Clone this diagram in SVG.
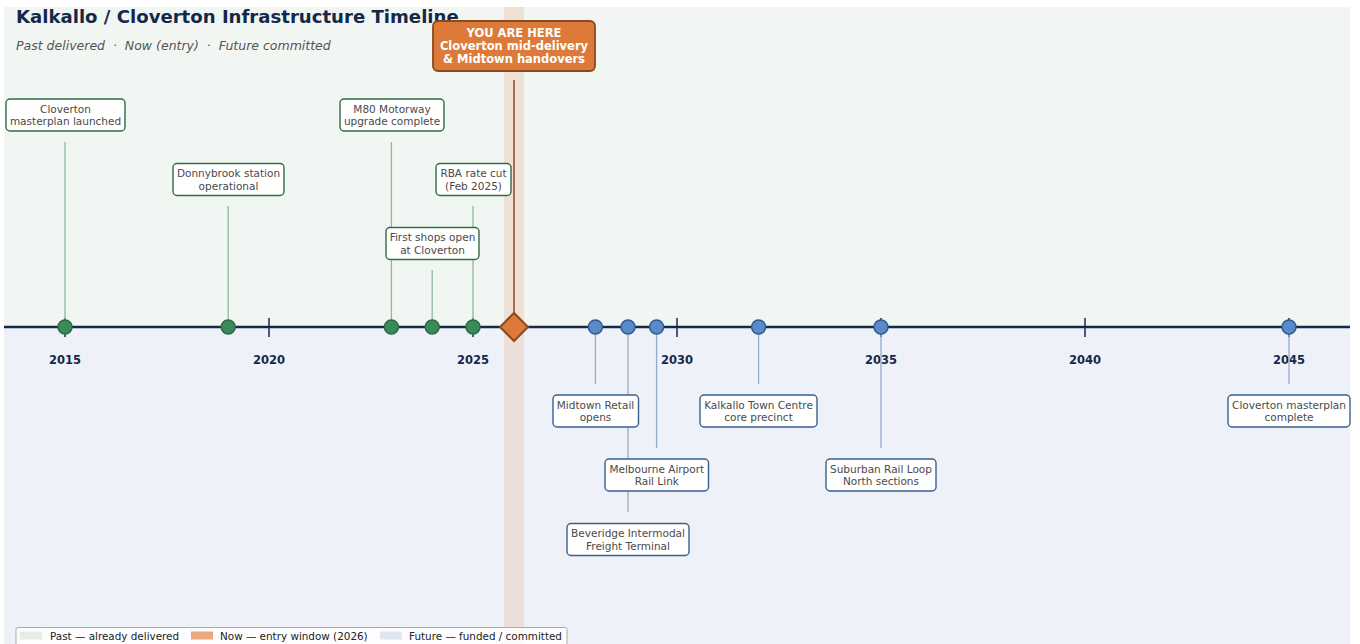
<svg xmlns="http://www.w3.org/2000/svg" width="1360" height="644" viewBox="0 0 1360 644">
<defs>
<style>
text{font-family:"DejaVu Sans","Liberation Sans",sans-serif}
.title{font-size:18.1px;font-weight:bold;fill:#14294a}
.sub{font-size:12.5px;font-style:italic;fill:#555;white-space:pre}
.yr{font-size:11.5px;font-weight:bold;fill:#14294a;text-anchor:middle}
.lbl{font-size:10.5px;fill:#4a4a4a;text-anchor:middle}
.here{font-size:11.5px;font-weight:bold;fill:#fff;text-anchor:middle}
.leg{font-size:10.4px;fill:#222}
.boxp{fill:#fff;stroke:#2f6b46;stroke-width:1.4}
.boxf{fill:#fff;stroke:#3a5f8f;stroke-width:1.4}
.stp{stroke:#8fb99d;stroke-width:1.3}
.stf{stroke:#93abcb;stroke-width:1.3}
.mp{fill:#3a8a5c;stroke:#2b6a45;stroke-width:1.5}
.mf{fill:#5b8bc7;stroke:#2f5b92;stroke-width:1.5}
.tick{stroke:#14294a;stroke-width:1.5}
</style>
</defs>
<rect x="0" y="0" width="1360" height="644" fill="#fff"/>
<g id="background">
<rect x="4" y="7" width="1346" height="320" fill="#f1f6f2"/>
<rect x="4" y="327" width="1346" height="330" fill="#eef2f8"/>
<rect x="504" y="7" width="20" height="650" fill="#e07b39" fill-opacity="0.17"/>
</g>
<g id="title">
<text class="title" x="16" y="23">Kalkallo / Cloverton Infrastructure Timeline</text>
<text class="sub" x="16" y="50" xml:space="preserve">Past delivered  ·  Now (entry)  ·  Future committed</text>
</g>
<g id="years">
<text class="yr" x="65" y="364">2015</text>
<text class="yr" x="269" y="364">2020</text>
<text class="yr" x="473" y="364">2025</text>
<text class="yr" x="677" y="364">2030</text>
<text class="yr" x="881" y="364">2035</text>
<text class="yr" x="1085" y="364">2040</text>
<text class="yr" x="1289" y="364">2045</text>
</g>
<g id="axis">
<line x1="4" y1="327" x2="1350" y2="327" stroke="#14294a" stroke-width="2.5"/>
<line class="tick" x1="65" y1="318" x2="65" y2="337"/>
<line class="tick" x1="269" y1="318" x2="269" y2="337"/>
<line class="tick" x1="473" y1="318" x2="473" y2="337"/>
<line class="tick" x1="677" y1="318" x2="677" y2="337"/>
<line class="tick" x1="881" y1="318" x2="881" y2="337"/>
<line class="tick" x1="1085" y1="318" x2="1085" y2="337"/>
<line class="tick" x1="1289" y1="318" x2="1289" y2="337"/>
</g>
<g id="connectors">
<line class="stp" x1="65" y1="142" x2="65" y2="327"/>
<line class="stp" x1="228.2" y1="206" x2="228.2" y2="327"/>
<line class="stp" x1="391.4" y1="142" x2="391.4" y2="327"/>
<line class="stp" x1="432.2" y1="270" x2="432.2" y2="327"/>
<line class="stp" x1="473" y1="206" x2="473" y2="327"/>
<line x1="514" y1="80" x2="514" y2="327" stroke="#8b4a22" stroke-width="1.5"/>
<line class="stf" x1="595.4" y1="327" x2="595.4" y2="384"/>
<line class="stf" x1="628" y1="327" x2="628" y2="512"/>
<line class="stf" x1="656.6" y1="327" x2="656.6" y2="448"/>
<line class="stf" x1="758.6" y1="327" x2="758.6" y2="384"/>
<line class="stf" x1="881" y1="327" x2="881" y2="448"/>
<line class="stf" x1="1289" y1="327" x2="1289" y2="384"/>
</g>
<g id="markers">
<circle class="mp" cx="65" cy="327" r="7"/>
<circle class="mp" cx="228.2" cy="327" r="7"/>
<circle class="mp" cx="391.4" cy="327" r="7"/>
<circle class="mp" cx="432.2" cy="327" r="7"/>
<circle class="mp" cx="473" cy="327" r="7"/>
<polygon points="514,313 528,327 514,341 500,327" fill="#dd7a3a" stroke="#8b4a1e" stroke-width="2"/>
<circle class="mf" cx="595.4" cy="327" r="7"/>
<circle class="mf" cx="628" cy="327" r="7"/>
<circle class="mf" cx="656.6" cy="327" r="7"/>
<circle class="mf" cx="758.6" cy="327" r="7"/>
<circle class="mf" cx="881" cy="327" r="7"/>
<circle class="mf" cx="1289" cy="327" r="7"/>
</g>
<g id="n-cloverton-launch">
<rect class="boxp" x="6" y="99" width="119" height="32" rx="4"/>
<text class="lbl" x="65.5" y="112.5">Cloverton</text>
<text class="lbl" x="65.5" y="125">masterplan launched</text>
</g>
<g id="n-donnybrook">
<rect class="boxp" x="173" y="163.5" width="111" height="32" rx="4"/>
<text class="lbl" x="228.5" y="177">Donnybrook station</text>
<text class="lbl" x="228.5" y="189.5">operational</text>
</g>
<g id="n-m80">
<rect class="boxp" x="340" y="99" width="104" height="32" rx="4"/>
<text class="lbl" x="392" y="112.5">M80 Motorway</text>
<text class="lbl" x="392" y="125">upgrade complete</text>
</g>
<g id="n-rba">
<rect class="boxp" x="436" y="163.5" width="75" height="32" rx="4"/>
<text class="lbl" x="473.5" y="177">RBA rate cut</text>
<text class="lbl" x="473.5" y="189.5">(Feb 2025)</text>
</g>
<g id="n-first-shops">
<rect class="boxp" x="386" y="227.5" width="93" height="32" rx="4"/>
<text class="lbl" x="432.5" y="241">First shops open</text>
<text class="lbl" x="432.5" y="253.5">at Cloverton</text>
</g>
<g id="n-you-are-here">
<rect x="433" y="21" width="162" height="50" rx="5" fill="#dd7a3a" stroke="#8b4a1e" stroke-width="1.8"/>
<text class="here" x="514" y="37">YOU ARE HERE</text>
<text class="here" x="514" y="50">Cloverton mid-delivery</text>
<text class="here" x="514" y="63">&amp; Midtown handovers</text>
</g>
<g id="n-midtown">
<rect class="boxf" x="553" y="395" width="85.5" height="32" rx="4"/>
<text class="lbl" x="595.5" y="408.5">Midtown Retail</text>
<text class="lbl" x="595.5" y="421">opens</text>
</g>
<g id="n-kalkallo">
<rect class="boxf" x="700" y="395" width="117" height="32" rx="4"/>
<text class="lbl" x="758.5" y="408.5">Kalkallo Town Centre</text>
<text class="lbl" x="758.5" y="421">core precinct</text>
</g>
<g id="n-airport">
<rect class="boxf" x="605" y="459" width="103.5" height="32" rx="4"/>
<text class="lbl" x="656.8" y="472.5">Melbourne Airport</text>
<text class="lbl" x="656.8" y="485">Rail Link</text>
</g>
<g id="n-srl">
<rect class="boxf" x="826" y="459" width="110" height="32" rx="4"/>
<text class="lbl" x="881" y="472.5">Suburban Rail Loop</text>
<text class="lbl" x="881" y="485">North sections</text>
</g>
<g id="n-beveridge">
<rect class="boxf" x="567" y="523.5" width="122" height="32" rx="4"/>
<text class="lbl" x="628" y="537">Beveridge Intermodal</text>
<text class="lbl" x="628" y="549.5">Freight Terminal</text>
</g>
<g id="n-cloverton-complete">
<rect class="boxf" x="1228" y="395" width="122" height="32" rx="4"/>
<text class="lbl" x="1289" y="408.5">Cloverton masterplan</text>
<text class="lbl" x="1289" y="421">complete</text>
</g>
<g id="legend">
<rect x="16" y="627.5" width="551" height="26" rx="2" fill="#fff" fill-opacity="0.85" stroke="#aaa" stroke-width="1"/>
<rect x="20" y="631.5" width="22" height="8" fill="#e3efe5"/>
<text class="leg" x="50" y="640">Past — already delivered</text>
<rect x="191" y="631.5" width="22" height="8" fill="#e9a97c"/>
<text class="leg" x="220" y="640">Now — entry window (2026)</text>
<rect x="380" y="631.5" width="22" height="8" fill="#dfe6f0"/>
<text class="leg" x="409" y="640">Future — funded / committed</text>
</g>
</svg>
